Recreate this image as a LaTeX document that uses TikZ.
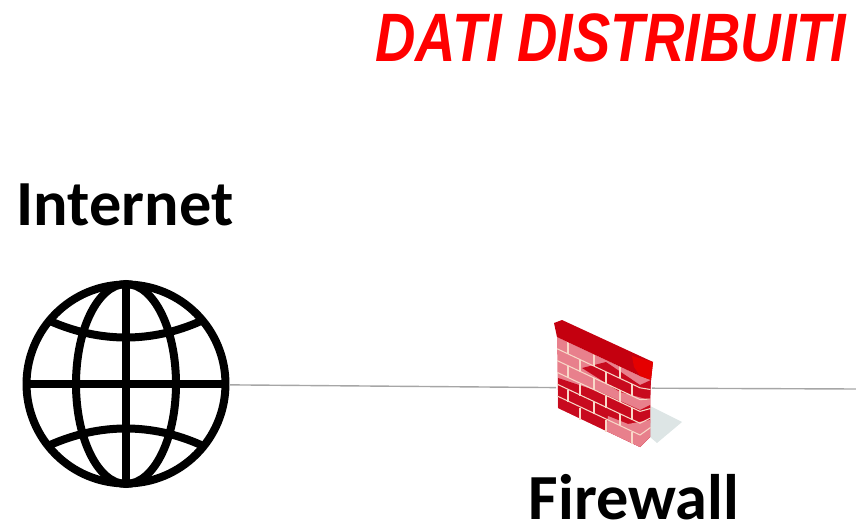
\documentclass[tikz,border=0pt]{standalone}
\usepackage{fontspec}
\setmainfont{Carlito}
\newfontfamily\titlefont{Liberation Sans}
\definecolor{wallcap}{HTML}{C4000F}
\definecolor{walldark}{HTML}{C80A1E}
\definecolor{wallpink}{HTML}{E8808C}
\definecolor{wallline}{HTML}{F8D8C8}
\definecolor{wallshadow}{HTML}{D4DEDE}
\definecolor{wireline}{HTML}{A6A6A6}
\begin{document}
\begin{tikzpicture}[x=0.02cm, y=-0.02cm,
	label/.style={font=\bfseries\fontsize{36.6}{40}\selectfont, text=black, inner sep=0pt, anchor=base},
	wire/.style={draw=wireline, line width=0.8pt},
	grid/.style={line width=0.16cm},
	mortar/.style={draw=wallline, line width=0.6pt}]
			\useasboundingbox (0,0) rectangle (856,527);
			\node[circle, draw=black, line width=0.16cm, minimum size=3.98cm, inner sep=0pt] (internet) at (126,384){};
			\node[inner sep=0pt, minimum width=1.9cm, minimum height=2cm] (firewall) at (604,388){};
			\coordinate (out) at (856,389);
			\node[inner sep=0pt, text=red, font=\titlefont\bfseries\itshape\fontsize{39}{44}\selectfont, xscale=0.816] (title) at (611,38) {DATI DISTRIBUITI};
			\node[label] (inet) at (125,225) {Internet};
			\node[label] (fw) at (634,519) {Firewall};
			
			\path[wire] (internet) edge (firewall);
			\path[wire] (firewall) edge (out);
			
			% globe
			\draw[grid] (internet.north) -- (internet.south);
			\draw[grid] (internet.west) -- (internet.east);
			\draw[grid] (internet.center) ellipse (50 and 100);
			\draw[grid] (50,321) .. controls (100,343) and (152,343) .. (201,321);
			\draw[grid] (50,445) .. controls (100,423) and (152,423) .. (201,445);
			
			% wall
			\fill[wallshadow, opacity=0.8] (650,406) -- (682,422) -- (657,443) -- (650,437) -- cycle;
			\fill[wallpink] (557,337) -- (640,376) -- (651,380) -- (650,437) -- (640,447) -- (558,408) -- cycle;
			\fill[walldark] (558,378) -- (600,392) -- (640,410) -- (650,405) -- (650,437) -- (640,447) -- (558,408) -- cycle;
			\fill[walldark] (582,368) -- (606,362) -- (640,385) -- (651,380) -- (650,400) -- (620,392) -- cycle;
			\fill[wallpink] (608,416) -- (628,424) -- (650,420) -- (650,437) -- (640,447) -- (606,431) -- cycle;
			\foreach \r in {1,...,5}
				\draw[mortar] (557.2,337+\r*11.8) -- (640,376+\r*11.8) -- (650.5,380+\r*9.5);
			\foreach \x/\y in {568/342,594/354,620/366,580/360,606/372,632/384,568/366,594/378,620/390,580/384,606/396,632/408,568/390,594/402,620/414,580/408,606/420,632/432}
				\draw[mortar] (\x,\y) -- (\x,\y+11.8);
			\fill[wallcap] (554,323) -- (562,320) -- (653,362) -- (651,380) -- (640,376) -- (557,337) -- cycle;
			\fill[red!90!black] (632,356) -- (653,362) -- (651,380) -- (640,376) -- (634,367) -- cycle;
			\end{tikzpicture}
\end{document}
